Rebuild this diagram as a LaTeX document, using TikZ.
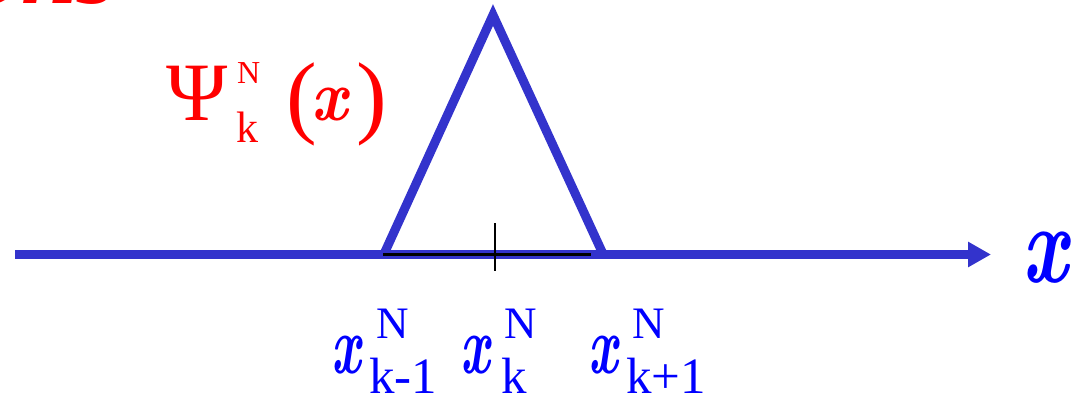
\documentclass[tikz,border=0pt]{standalone}
\usepackage{fontspec}
\usepackage{graphicx}
\setmainfont{Liberation Serif}
\newfontfamily\timesbi{Liberation Serif Bold Italic}
\newfontfamily\lmr{Latin Modern Roman}
\usetikzlibrary{arrows.meta}
\definecolor{lineblue}{RGB}{51,51,204}
\definecolor{txtblue}{RGB}{0,0,255}
\definecolor{txtred}{RGB}{255,0,0}
\newcommand{\fsz}[1]{\fontsize{#1}{#1}\selectfont}
\newcommand{\mvar}[2]{\scalebox{#2}[1]{\fsz{#1}\lmr\bfseries\itshape x}}
\begin{document}
\begin{tikzpicture}[x=1pt,y=-1pt,
  lbl/.style={inner sep=0pt,outer sep=0pt,anchor=base west},
  bl/.style={lbl,text=txtblue},
  rd/.style={lbl,text=txtred},
  axisline/.style={draw=lineblue,line width=8.5pt,-{Triangle[length=23pt,width=24pt]}},
  hat/.style={draw=lineblue,line width=9pt,line join=miter},
  blk/.style={draw=black,line width=2.2pt}]
\useasboundingbox (0,0) rectangle (1082,399);
% clipped fragment at top
\begin{scope}
\clip (0,0) rectangle (300,20);
\node[rd,anchor=base east] (frag) at (116,3) {\fsz{100}\timesbi ons};
\end{scope}
% axis
\coordinate (axL) at (15,254.5);
\coordinate (axR) at (991,254.5);
\draw[axisline] (axL) -- (axR);
% hat function
\coordinate (tL) at (384,254);
\coordinate (tA) at (493,15);
\coordinate (tR) at (603,254);
\draw[hat] (tL) -- (tA) -- (tR);
% black support segment and tick
\coordinate (bL) at (383,254.5);
\coordinate (bR) at (591,254.5);
\draw[blk] (bL) -- (bR);
\coordinate (tkT) at (495,223);
\coordinate (tkB) at (495,271);
\draw[blk] (tkT) -- (tkB);
% axis label
\node[bl] (xlab) at (1022,282) {\mvar{112}{0.72}};
% Psi label
\node[rd] (psi) at (166,120) {\fsz{83}Ψ};
\node[rd] (psiN) at (237,83) {\fsz{32}N};
\node[rd] (psik) at (236,142) {\fsz{44}k};
\node[rd] (pl) at (286,126) {\fsz{92}(};
\node[rd] (px) at (311,120) {\mvar{72}{0.89}};
\node[rd] (pr) at (356,126) {\fsz{92})};
% node labels
\node[bl] (x1) at (331,373) {\mvar{83}{0.63}};
\node[bl] (x1N) at (376,338) {\fsz{45}N};
\node[bl] (x1k) at (369,393) {\fsz{51}k-1};
\node[bl] (x2) at (460,373) {\mvar{83}{0.63}};
\node[bl] (x2N) at (504,338) {\fsz{45}N};
\node[bl] (x2k) at (501,393) {\fsz{51}k};
\node[bl] (x3) at (588,373) {\mvar{83}{0.63}};
\node[bl] (x3N) at (632,338) {\fsz{45}N};
\node[bl] (x3k) at (626,393) {\fsz{51}k+1};
\end{tikzpicture}
\end{document}
